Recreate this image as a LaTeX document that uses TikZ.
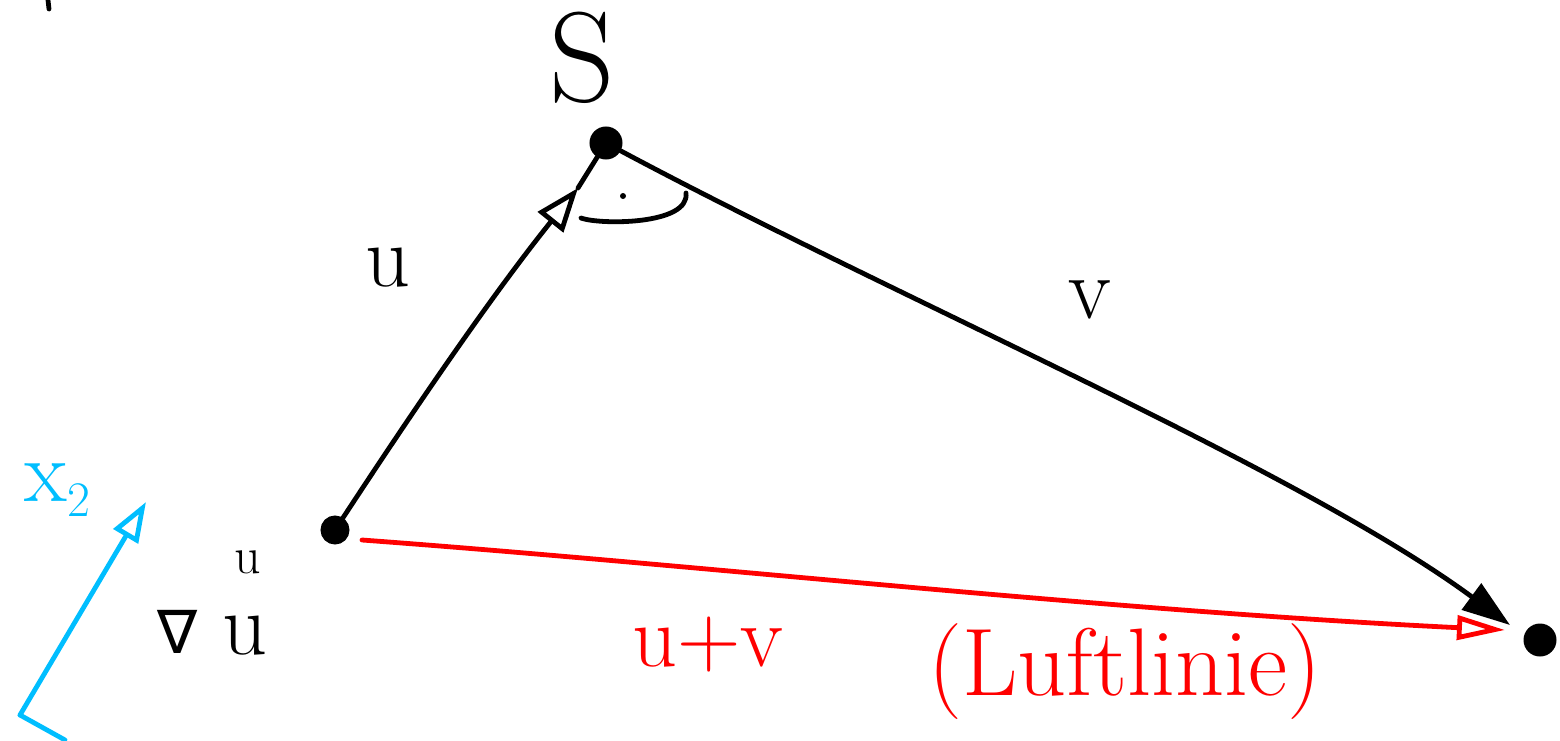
\documentclass[tikz,border=0pt]{standalone}
\usepackage{fontspec}
\newfontfamily\symfont{DejaVu Sans}
\usetikzlibrary{arrows.meta}
\definecolor{hred}{RGB}{255,0,0}
\definecolor{hblue}{RGB}{0,190,255}
\tikzset{
  pen/.style={line width=2.4pt,line cap=round,line join=round},
  dotnode/.style={circle,fill=black,draw=black,line width=1.5pt,inner sep=0pt,minimum size=#1},
  lab/.style={inner sep=0pt,font=\fontsize{44}{44}\selectfont},
}
\begin{document}
\begin{tikzpicture}[x=0.5pt,y=-0.5pt]
\useasboundingbox (0,0) rectangle (1560,740);
% points
\node[dotnode=13pt] (A) at (335,530) {};
\node[dotnode=15pt] (S) at (606,143) {};
\node[dotnode=15pt] (B) at (1540,640) {};
\coordinate (Ahead) at (578,188);
\coordinate (Bhead) at (1510,625);
\coordinate (Rstart) at (362,540);
\coordinate (Rhead) at (1505,630);
% u arrow
\draw[pen,-{Triangle[open,length=22pt,width=16pt,line width=2.4pt]}] (A) .. controls (430,385) and (500,285) .. (Ahead);
\draw[pen] (Ahead) -- (S);
% v arrow
\draw[pen,-{Triangle[length=24pt,width=16pt]}] (S) .. controls (900,300) and (1300,470) .. (Bhead);
% red u+v
\draw[pen,hred,-{Triangle[open,length=24pt,width=12pt,line width=2.4pt]}] (Rstart) .. controls (700,565) and (1100,610) .. (Rhead);
% right angle mark
\draw[pen] (581,218) .. controls (600,225) and (690,225) .. (686,193);
\node[circle,fill=black,inner sep=0pt,minimum size=3pt] (rdot) at (623,196) {};
% labels
\node[lab,font=\fontsize{64}{64}\selectfont] (Slab) at (582,58) {S};
\node[lab] (ulab) at (388,268) {u};
\node[lab] (vlab) at (1090,300) {v};
\node[lab,text=hred] (uvlab) at (708,645) {u+v};
\node[lab,text=hred,font=\fontsize{48}{48}\selectfont] (luft) at (1125,672) {(Luftlinie)};
\node[lab,font=\symfont\fontsize{30}{30}\selectfont] (nabla) at (178,632) {∇};
\node[lab] (ubig) at (245,636) {u};
\node[lab,font=\fontsize{26}{26}\selectfont] (usmall) at (248,562) {u};
% blue axis
\coordinate (O) at (20,715);
\coordinate (X2) at (146,502);
\coordinate (X1) at (65,740);
\draw[pen,hblue,-{Triangle[open,length=20pt,width=14pt,line width=2.4pt]}] (O) -- (X2);
\draw[pen,hblue] (O) -- (X1);
\node[lab,text=hblue] (x2lab) at (58,490) {x$_2$};
% small stroke top-left
\coordinate (t1) at (48,0);
\coordinate (t2) at (49,9);
\draw[pen] (t1) -- (t2);
\end{tikzpicture}
\end{document}
